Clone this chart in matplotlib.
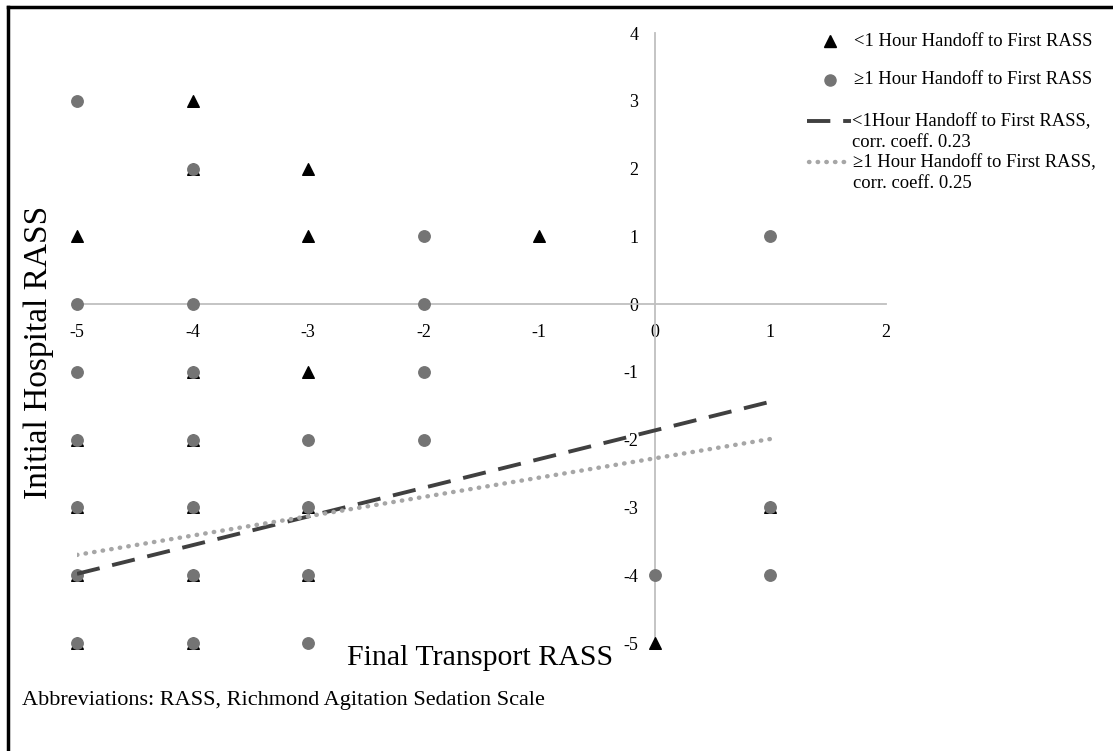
import matplotlib
matplotlib.use("Agg")
import matplotlib.pyplot as plt
from matplotlib.lines import Line2D

plt.rcParams['font.family'] = ['Liberation Serif', 'DejaVu Serif']
plt.rcParams['axes.unicode_minus'] = False

# <1 hour handoff to first RASS (triangles)
lt_x = [-4, -5, -3, -3, -1, -3, 0, -4, -4, -5, -4, -5, -4, -3, -5, -4, -3, -5, -4, 1]
lt_y = [3, 1, 2, 1, 1, -1, -5, 2, -1, -2, -2, -3, -3, -3, -4, -4, -4, -5, -5, -3]

# >=1 hour handoff to first RASS (circles)
ge_x = [-5, -4, -5, -4, -2, -2, 1, -5, -4, -2, -5, -4, -3, -2, -5, -4, -3, 1, 0, 1, -5, -4, -3, -5, -4, -3]
ge_y = [3, 2, 0, 0, 0, 1, 1, -1, -1, -1, -2, -2, -2, -2, -3, -3, -3, -3, -4, -4, -4, -4, -4, -5, -5, -5]

# linear trend lines (endpoints)
trend_x = [-5, 1]
trend_lt = [-3.98, -1.44]
trend_ge = [-3.70, -1.99]

x_ticks = [-5, -4, -3, -2, -1, 0, 1, 2]
y_ticks = [-5, -4, -3, -2, -1, 0, 1, 2, 3, 4]

leg_labels = [
    '<1 Hour Handoff to First RASS',
    '\u22651 Hour Handoff to First RASS',
    '<1Hour Handoff to First RASS,\ncorr. coeff. 0.23',
    '\u22651 Hour Handoff to First RASS,\ncorr. coeff. 0.25',
]

W, H = 1113, 751
fig = plt.figure(figsize=(W / 100, H / 100), dpi=100)
ax = fig.add_axes([77 / W, 1 - 643 / H, (886 - 77) / W, (643 - 33) / H])

ax.set_xlim(-5, 2)
ax.set_ylim(-5, 4)

axis_col = '#bfbfbf'
ax.spines['left'].set_position(('data', 0))
ax.spines['bottom'].set_position(('data', 0))
ax.spines['right'].set_visible(False)
ax.spines['top'].set_visible(False)
for s in ['left', 'bottom']:
    ax.spines[s].set_color(axis_col)
    ax.spines[s].set_linewidth(1.3)

ax.set_xticks(x_ticks)
ax.set_yticks(y_ticks)
ax.tick_params(axis='both', length=0, labelsize=13)
ax.tick_params(axis='x', pad=14)
ax.tick_params(axis='y', pad=12)

dash_style = dict(color='#404040', lw=2.8, dashes=(6, 3.3))
dot_style = dict(color='#a6a6a6', lw=3.2, linestyle=(0, (0.1, 1.85)), dash_capstyle='round')

ax.scatter(lt_x, lt_y, marker='^', s=70, color='black', zorder=3, clip_on=False)
ax.scatter(ge_x, ge_y, marker='o', s=68, color='#747474', zorder=4, clip_on=False)
ax.plot(trend_x, trend_lt, zorder=5, **dash_style)
ax.plot(trend_x, trend_ge, zorder=5, **dot_style)

# axis titles, Excel style
fig.text(480 / W, 1 - 658 / H, 'Final Transport RASS', fontsize=21.5,
         ha='center', va='center')
fig.text(39 / W, 1 - 352 / H, 'Initial Hospital RASS', fontsize=24, rotation=90,
         ha='center', va='center')
fig.text(22 / W, 1 - 700 / H, 'Abbreviations: RASS, Richmond Agitation Sedation Scale',
         fontsize=16, ha='left', va='center')

# legend, laid out by hand like the Excel one
def fx(px):
    return px / W

def fy(py):
    return 1 - py / H

fs = 13.4
fig.add_artist(Line2D([fx(830)], [fy(41)], marker='^', ls='none', color='black',
                      markersize=8, transform=fig.transFigure))
fig.text(fx(854), fy(41), leg_labels[0], fontsize=fs, va='center')
fig.add_artist(Line2D([fx(830)], [fy(80)], marker='o', ls='none', color='#747474',
                      markersize=8, transform=fig.transFigure))
fig.text(fx(854), fy(80), leg_labels[1], fontsize=fs, va='center')
fig.add_artist(Line2D([fx(807), fx(851)], [fy(121), fy(121)],
                      transform=fig.transFigure, **dash_style))
fig.text(fx(852), fy(132), leg_labels[2], fontsize=fs, va='center', linespacing=1.3)
fig.add_artist(Line2D([fx(809), fx(851)], [fy(162), fy(162)],
                      transform=fig.transFigure, **dot_style))
fig.text(fx(853), fy(173), leg_labels[3], fontsize=fs, va='center', linespacing=1.3)

# frame around the figure (left and top edges visible)
fig.add_artist(Line2D([fx(8), fx(8)], [0, fy(7)], color='black', lw=2.5,
                      transform=fig.transFigure))
fig.add_artist(Line2D([fx(8), 1], [fy(7), fy(7)], color='black', lw=2.5,
                      transform=fig.transFigure))

fig.savefig('out.png', dpi=100)
